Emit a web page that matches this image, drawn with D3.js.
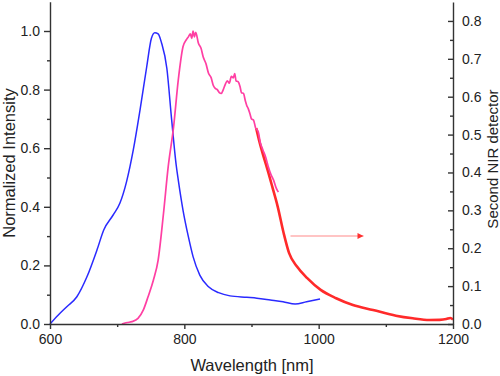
<!DOCTYPE html>
<html><head><meta charset="utf-8">
<script src="https://cdn.jsdelivr.net/npm/d3@7"></script>
<style>body{margin:0;background:#fff}svg{display:block}text{font-family:"Liberation Sans",Arial,sans-serif;fill:#222}</style>
</head><body>
<svg id="c" width="500" height="376"></svg>
<script>
// Data
const blueWl  = [600,612,625,640,655,670,680,694,704,714,724,734,744,751,756,761,766,774,781,788,791,798,806,813,823,836,851,868,893,908,928,947,965,982,1002];
const blueVal = [0,0.03,0.059,0.093,0.161,0.253,0.321,0.372,0.412,0.486,0.594,0.73,0.878,0.975,0.994,0.99,0.96,0.872,0.70,0.54,0.491,0.389,0.298,0.23,0.167,0.127,0.107,0.096,0.091,0.088,0.082,0.076,0.068,0.076,0.085];
const pinkWl  = [707,715,722,731,739,746,754,761,769,776,784,791,798,803,806,809,811,813,815,817,821,825,828,832,836,840,843,846,849,852,855,858,861,864,867,870,873,875,877,880,883,885,888,891,893,895,898,900,903,906,910,913,917,921,925,929,933,937,940];
const pinkVal = [0,0.005,0.008,0.019,0.048,0.093,0.15,0.218,0.378,0.537,0.673,0.833,0.946,0.97,0.98,0.99,0.975,1.0,0.98,0.995,0.958,0.94,0.912,0.89,0.856,0.84,0.815,0.804,0.8,0.79,0.787,0.80,0.818,0.83,0.822,0.845,0.84,0.855,0.83,0.827,0.81,0.79,0.787,0.76,0.745,0.736,0.715,0.70,0.696,0.67,0.656,0.62,0.594,0.57,0.537,0.51,0.49,0.463,0.45];
const redWl   = [907,912,918,925,931,939,948,956,968,983,1003,1026,1051,1081,1115,1140,1165,1180,1190,1196,1200];
const redVal  = [0.517,0.48,0.442,0.40,0.362,0.31,0.239,0.187,0.151,0.121,0.09,0.068,0.05,0.037,0.022,0.015,0.0106,0.011,0.013,0.016,0.012];
const xMajor = [600,800,1000,1200];
const xMinor = [700,900,1100];
const yLMajor = [0,0.2,0.4,0.6,0.8,1.0];
const yLMinor = [0.1,0.3,0.5,0.7,0.9];
const yRMajor = [0,0.1,0.2,0.3,0.4,0.5,0.6,0.7,0.8];
const yRMinor = [0.05,0.15,0.25,0.35,0.45,0.55,0.65,0.75];

const svg = d3.select("#c");
const x = d3.scaleLinear().domain([600,1200]).range([50,453]);
const yL = d3.scaleLinear().domain([0,1.1]).range([324,1.7]);
const yR = d3.scaleLinear().domain([0,0.85]).range([324,2]);

const axisColor = "#333";
function styleAxis(g){
  g.selectAll("path,line").attr("stroke",axisColor).attr("stroke-width",1.4);
  g.selectAll("text").style("font-size","14px").attr("fill","#222");
}

// curves
const lineL = d3.line().x(d=>x(d[0])).y(d=>yL(d[1])).curve(d3.curveMonotoneX);
const lineR = d3.line().x(d=>x(d[0])).y(d=>yR(d[1])).curve(d3.curveMonotoneX);
svg.append("path").datum(blueWl.map((w,i)=>[w,blueVal[i]])).attr("d",lineL)
  .attr("fill","none").attr("stroke","#2a2aff").attr("stroke-width",1.5);
svg.append("path").datum(redWl.map((w,i)=>[w,redVal[i]])).attr("d",lineR)
  .attr("fill","none").attr("stroke","#ff2a2a").attr("stroke-width",2.6);
svg.append("path").datum(pinkWl.map((w,i)=>[w,pinkVal[i]])).attr("d",lineL)
  .attr("fill","none").attr("stroke","#ff3fa3").attr("stroke-width",1.7).attr("stroke-linejoin","round");

// arrow
const defs = svg.append("defs");
defs.append("marker").attr("id","ah").attr("viewBox","0 0 10 10").attr("refX",10).attr("refY",5)
  .attr("markerWidth",8).attr("markerHeight",6).attr("markerUnits","userSpaceOnUse").attr("orient","auto")
  .append("path").attr("d","M0,0L10,5L0,10Z").attr("fill","#ff3030");
svg.append("line").attr("x1",290.5).attr("y1",236).attr("x2",363.5).attr("y2",236)
  .attr("stroke","#ffb0b0").attr("stroke-width",1.6).attr("marker-end","url(#ah)");

// axes
const gB = svg.append("g").attr("transform","translate(0,324)")
  .call(d3.axisBottom(x).tickValues(xMajor).tickFormat(d3.format("d")).tickSize(5).tickPadding(5).tickSizeOuter(0));
styleAxis(gB);
const gBm = svg.append("g").attr("transform","translate(0,324)")
  .call(d3.axisBottom(x).tickValues(xMinor).tickFormat("").tickSize(3).tickSizeOuter(0));
gBm.select(".domain").remove(); styleAxis(gBm);

const gL = svg.append("g").attr("transform","translate(50,0)")
  .call(d3.axisLeft(yL).tickValues(yLMajor).tickFormat(d3.format(".1f")).tickSize(6).tickPadding(4).tickSizeOuter(0));
styleAxis(gL);
const gLm = svg.append("g").attr("transform","translate(50,0)")
  .call(d3.axisLeft(yL).tickValues(yLMinor).tickFormat("").tickSize(3).tickSizeOuter(0));
gLm.select(".domain").remove(); styleAxis(gLm);

const gR = svg.append("g").attr("transform","translate(453,0)")
  .call(d3.axisRight(yR).tickValues(yRMajor).tickFormat(d3.format(".1f")).tickSize(-5).tickPadding(9).tickSizeOuter(0));
styleAxis(gR);
const gRm = svg.append("g").attr("transform","translate(453,0)")
  .call(d3.axisRight(yR).tickValues(yRMinor).tickFormat("").tickSize(-3).tickSizeOuter(0));
gRm.select(".domain").remove(); styleAxis(gRm);

// titles
svg.append("text").attr("x",252).attr("y",371).attr("text-anchor","middle").style("font-size","16.5px").text("Wavelength [nm]");
svg.append("text").attr("transform","translate(14.5,163) rotate(-90)").attr("text-anchor","middle").style("font-size","16.5px").text("Normalized Intensity");
svg.append("text").attr("transform","translate(497.5,159) rotate(-90)").attr("text-anchor","middle").style("font-size","15px").text("Second NIR detector");
</script>
</body></html>
